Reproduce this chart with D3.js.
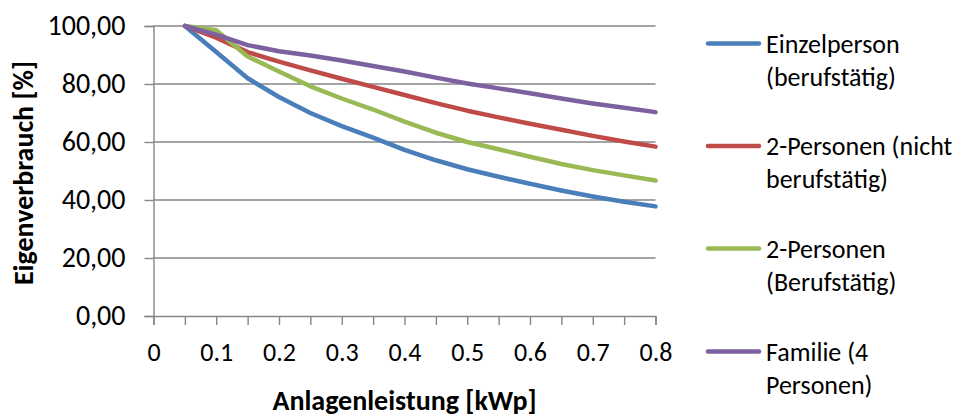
<!DOCTYPE html>
<html>
<head>
<meta charset="utf-8">
<script src="https://cdn.jsdelivr.net/npm/d3@7"></script>
<style>
  html, body { margin: 0; padding: 0; background: #fff; }
  svg text { font-family: Carlito, Calibri, Lato, sans-serif; fill: #000; }
</style>
</head>
<body>
<svg id="chart" width="960" height="419"></svg>
<script>
// Installed PV power (kWp) and self-consumption share (%) per household type
const leistung = [0.05, 0.1, 0.15, 0.2, 0.25, 0.3, 0.35, 0.4, 0.45, 0.5, 0.55, 0.6, 0.65, 0.7, 0.75, 0.8];
const einzelperson = [100, 91, 82, 75.5, 70, 65.5, 61.5, 57.3, 53.7, 50.6, 48, 45.6, 43.3, 41.2, 39.4, 37.8];
const zweiNichtBerufstaetig = [100, 96, 91, 87.7, 84.7, 81.8, 79, 76.2, 73.4, 70.8, 68.5, 66.3, 64.2, 62.1, 60.2, 58.4];
const zweiBerufstaetig = [100, 98.5, 89.5, 84.3, 79.2, 75, 71.2, 67, 63.2, 60, 57.5, 54.9, 52.4, 50.3, 48.5, 46.7];
const familie = [100, 97, 93.4, 91.3, 89.8, 88.1, 86.2, 84.3, 82.2, 80.2, 78.5, 76.8, 75, 73.3, 71.8, 70.3];

const seriesNames = [
  ["Einzelperson", "(berufstätig)"],
  ["2-Personen (nicht", "berufstätig)"],
  ["2-Personen", "(Berufstätig)"],
  ["Familie (4", "Personen)"]
];
const seriesValues = [einzelperson, zweiNichtBerufstaetig, zweiBerufstaetig, familie];
const seriesColors = ["#4A7EBB", "#BE4B48", "#98B954", "#7D60A0"];

const xTicksMajor = [0, 0.1, 0.2, 0.3, 0.4, 0.5, 0.6, 0.7, 0.8];
const xTicksMinor = [0, 0.05, 0.1, 0.15, 0.2, 0.25, 0.3, 0.35, 0.4, 0.45, 0.5, 0.55, 0.6, 0.65, 0.7, 0.75, 0.8];
const yTicks = [0, 20, 40, 60, 80, 100];

const svg = d3.select("#chart");
const plot = { left: 153.5, right: 655.5, top: 26, bottom: 316 };

const x = d3.scaleLinear().domain([0, 0.8]).range([plot.left, plot.right]);
const y = d3.scaleLinear().domain([0, 100]).range([plot.bottom, plot.top]);

const gridColor = "#868686";
const fontFamily = "Carlito, Calibri, Lato, sans-serif";

// horizontal gridlines
svg.append("g").selectAll("line").data(yTicks.filter(d => d > 0)).join("line")
  .attr("x1", plot.left).attr("x2", plot.right)
  .attr("y1", d => y(d)).attr("y2", d => y(d))
  .attr("stroke", gridColor).attr("stroke-width", 1.4);

// y axis
const yAxis = svg.append("g").attr("transform", `translate(${plot.left},0)`)
  .call(d3.axisLeft(y).tickValues(yTicks).tickSize(9).tickPadding(19)
    .tickFormat(d => d3.format(".2f")(d).replace(".", ",")));
yAxis.select(".domain").attr("stroke", gridColor).attr("stroke-width", 1.4);
yAxis.selectAll(".tick line").attr("stroke", gridColor).attr("stroke-width", 1.4);
yAxis.selectAll("text").attr("font-size", 28).attr("fill", "#000")
  .style("font-family", fontFamily);

// x axis with minor ticks every 0.05
const xAxisMinor = svg.append("g").attr("transform", `translate(0,${plot.bottom})`)
  .call(d3.axisBottom(x).tickValues(xTicksMinor).tickSize(9).tickFormat(""));
xAxisMinor.select(".domain").attr("stroke", gridColor).attr("stroke-width", 1.4);
xAxisMinor.selectAll(".tick line").attr("stroke", gridColor).attr("stroke-width", 1.4);

const xAxis = svg.append("g").attr("transform", `translate(0,${plot.bottom})`)
  .call(d3.axisBottom(x).tickValues(xTicksMajor).tickSize(0)
    .tickFormat(d => d === 0 ? "0" : String(d)));
xAxis.select(".domain").remove();
xAxis.selectAll("text").attr("font-size", 26).attr("fill", "#000")
  .attr("y", 45).attr("dy", 0)
  .style("font-family", fontFamily);

// series lines
const line = d3.line().x((d, i) => x(leistung[i])).y(d => y(d));
svg.append("g").selectAll("path").data(seriesValues).join("path")
  .attr("d", d => line(d))
  .attr("fill", "none")
  .attr("stroke", (d, i) => seriesColors[i])
  .attr("stroke-width", 4.5)
  .attr("stroke-linejoin", "round")
  .attr("stroke-linecap", "round");

// axis titles
svg.append("text")
  .attr("x", (plot.left + plot.right) / 2).attr("y", 410)
  .attr("text-anchor", "middle").attr("font-size", 28).attr("font-weight", "bold")
  .text("Anlagenleistung [kWp]");

svg.append("text")
  .attr("transform", `translate(33,173) rotate(-90)`)
  .attr("text-anchor", "middle").attr("font-size", 28).attr("font-weight", "bold")
  .text("Eigenverbrauch [%]");

// legend
const legendY = [43.5, 146, 248.5, 351.5];
const legend = svg.append("g").selectAll("g").data(seriesNames).join("g")
  .attr("transform", (d, i) => `translate(0,${legendY[i]})`);
legend.append("line")
  .attr("x1", 708).attr("x2", 759).attr("y1", 0).attr("y2", 0)
  .attr("stroke", (d, i) => seriesColors[i])
  .attr("stroke-width", 4.5).attr("stroke-linecap", "round");
legend.append("text")
  .attr("x", 766).attr("y", 0).attr("font-size", 26)
  .selectAll("tspan").data(d => d).join("tspan")
  .attr("x", 766).attr("dy", (d, i) => i === 0 ? "0.35em" : 33)
  .text(d => d);
</script>
</body>
</html>
